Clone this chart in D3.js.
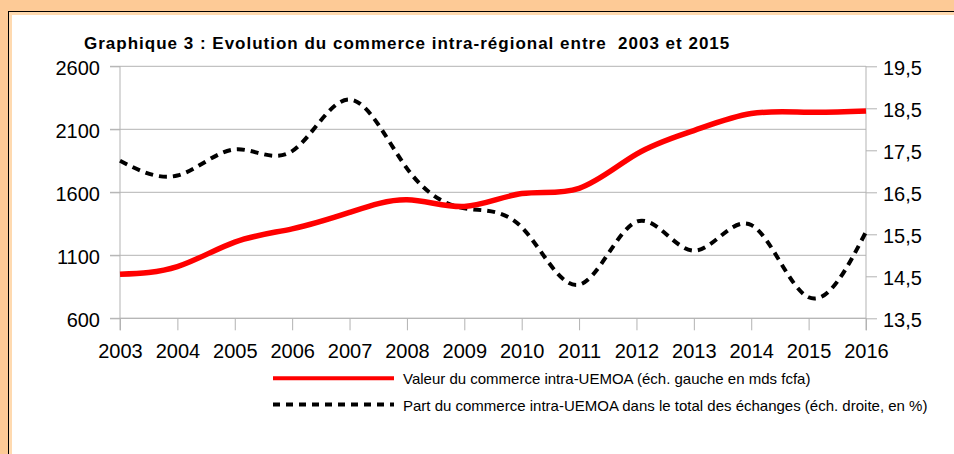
<!DOCTYPE html>
<html>
<head>
<meta charset="utf-8">
<script src="https://cdn.jsdelivr.net/npm/d3@7"></script>
<style>
  body { margin: 0; background: #fdca96; }
  svg { display: block; font-family: "Liberation Sans", Arial, sans-serif; }
  .grid line { stroke: #b3b3b3; stroke-width: 1; }
  .axis path, .axis line { stroke: #b3b3b3; }
  .axis text { fill: #000; font-size: 20px; }
</style>
</head>
<body>
<div id="chart"></div>
<script>
const years = [2003, 2004, 2005, 2006, 2007, 2008, 2009, 2010, 2011, 2012, 2013, 2014, 2015, 2016];
// valeur du commerce intra-UEMOA, mds fcfa (axe gauche)
const valeur = [950, 1010, 1205, 1310, 1440, 1540, 1488, 1590, 1632, 1903, 2090, 2225, 2235, 2245];
// part dans le total des echanges, % (axe droit)
const part = [17.25, 16.9, 17.52, 17.48, 18.71, 17.07, 16.12, 15.67, 14.3, 15.8, 15.11, 15.72, 14.0, 15.56];
const leftTicks = [600, 1100, 1600, 2100, 2600];
const rightTicks = [13.5, 14.5, 15.5, 16.5, 17.5, 18.5, 19.5];
const title = "Graphique 3 : Evolution du commerce intra-régional entre  2003 et 2015";
const legendLabels = [
  "Valeur du commerce intra-UEMOA (éch. gauche en mds fcfa)",
  "Part du commerce intra-UEMOA dans le total des échanges (éch. droite, en %)"
];

var W = 954, H = 454;
var margin = { top: 66.3, right: 88, bottom: 135.7, left: 120 },
  width = W - margin.left - margin.right,
  height = H - margin.top - margin.bottom;

var svg = d3.select("#chart").append("svg")
  .attr("width", W)
  .attr("height", H);

// frame
svg.append("rect").attr("x", 0).attr("y", 0).attr("width", W).attr("height", H).attr("fill", "#fdca96");
svg.append("rect").attr("x", 8.5).attr("y", 11.5).attr("width", W).attr("height", H)
  .attr("fill", "#ffdab0").attr("stroke", "#000").attr("stroke-width", 1);
svg.append("rect").attr("x", 12).attr("y", 15).attr("width", W).attr("height", H).attr("fill", "#fff");

var g = svg.append("g")
  .attr("transform", "translate(" + margin.left + "," + margin.top + ")");

var x = d3.scaleLinear().domain([2003, 2016]).range([0, width]);
var yL = d3.scaleLinear().domain([600, 2600]).range([height, 0]);
var yR = d3.scaleLinear().domain([13.5, 19.5]).range([height, 0]);

// horizontal grid (left scale), extended left as ticks
g.append("g").attr("class", "grid")
  .selectAll("line").data(leftTicks).enter().append("line")
  .attr("x1", -10).attr("x2", width)
  .attr("y1", d => yL(d)).attr("y2", d => yL(d));

// left axis
var gl = g.append("g").attr("class", "axis")
  .call(d3.axisLeft(yL).tickValues(leftTicks).tickSize(10).tickPadding(10).tickFormat(d3.format("d")));
gl.select(".domain").remove();
gl.selectAll("text").attr("dy", "0.4em");
g.append("line").attr("x1", 0).attr("x2", 0).attr("y1", 0).attr("y2", height + 12)
  .attr("stroke", "#b3b3b3");

// right axis
var gr = g.append("g").attr("class", "axis")
  .attr("transform", "translate(" + width + ",0)")
  .call(d3.axisRight(yR).tickValues(rightTicks).tickSize(11).tickPadding(6)
    .tickFormat(d => d3.format(".1f")(d).replace(".", ",")));
gr.select(".domain").remove();
gr.selectAll("text").attr("dy", "0.4em");
g.append("line").attr("x1", width).attr("x2", width).attr("y1", 0).attr("y2", height + 12)
  .attr("stroke", "#b3b3b3");

// bottom axis
var gx = g.append("g").attr("class", "axis")
  .attr("transform", "translate(0," + height + ")")
  .call(d3.axisBottom(x).tickValues(years).tickSize(12).tickPadding(14).tickFormat(d3.format("d")));
gx.select(".domain").attr("d", "M0,0H" + width);

// lines
var lineL = d3.line().x((d, i) => x(years[i])).y(d => yL(d)).curve(d3.curveNatural);
var lineR = d3.line().x((d, i) => x(years[i])).y(d => yR(d)).curve(d3.curveNatural);

g.append("path").datum(part)
  .attr("fill", "none").attr("stroke", "#000").attr("stroke-width", 4)
  .attr("stroke-dasharray", "8,6")
  .attr("d", lineR);

g.append("path").datum(valeur)
  .attr("fill", "none").attr("stroke", "#ff0000").attr("stroke-width", 5.5)
  .attr("stroke-linejoin", "round")
  .attr("d", lineL);

// title
svg.append("text")
  .attr("x", 84).attr("y", 49)
  .attr("font-size", "17px").attr("font-weight", "bold")
  .attr("letter-spacing", "1px")
  .attr("xml:space", "preserve").style("white-space", "pre")
  .text(title);

// legend
var legend = svg.append("g");
var legY = [378.3, 404.5];
legend.selectAll("line").data(legendLabels).enter().append("line")
  .attr("x1", 273).attr("x2", 394)
  .attr("y1", (d, i) => legY[i]).attr("y2", (d, i) => legY[i])
  .attr("stroke", (d, i) => i === 0 ? "#ff0000" : "#000")
  .attr("stroke-width", 4)
  .attr("stroke-dasharray", (d, i) => i === 0 ? null : "7,6");
legend.selectAll("text").data(legendLabels).enter().append("text")
  .attr("x", 403).attr("y", (d, i) => legY[i] + 6)
  .attr("font-size", "15px")
  .text(d => d);
</script>
</body>
</html>
